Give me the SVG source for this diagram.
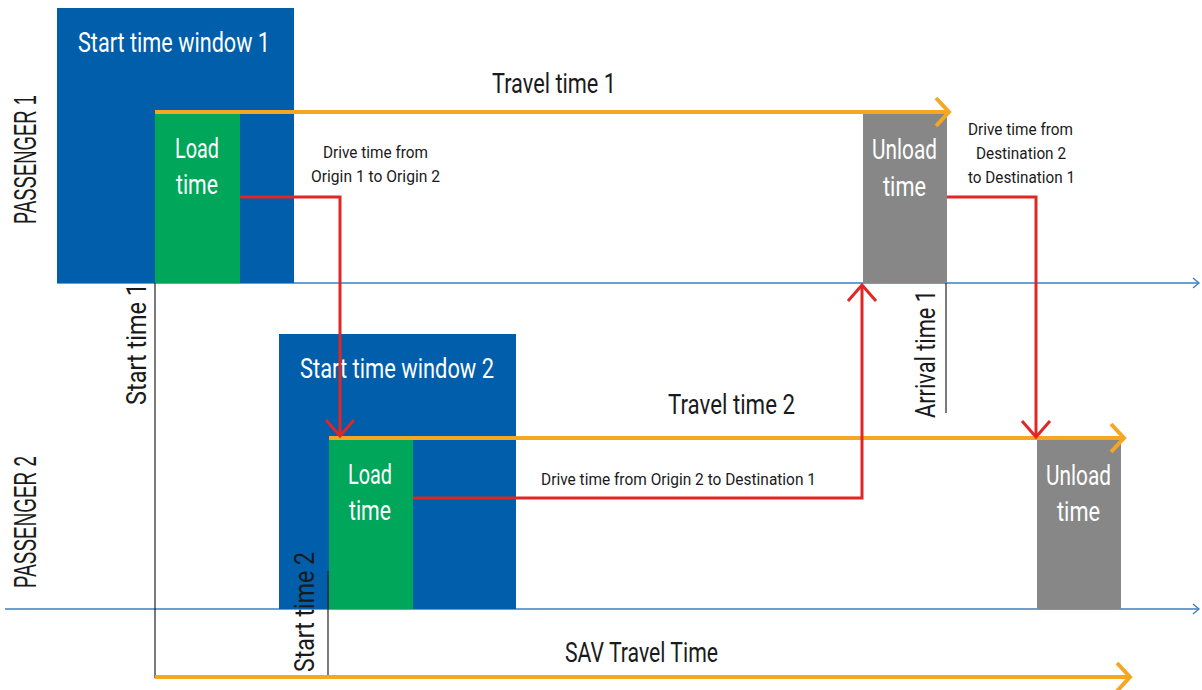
<svg xmlns="http://www.w3.org/2000/svg" width="1202" height="690" viewBox="0 0 1202 690">
<defs>
<style>
.win{fill:#005EAB}
.load{fill:#00A65A}
.unl{fill:#878787}
.t{font-family:"Liberation Sans Narrow","Roboto","Liberation Sans",sans-serif}
.p{font-family:"Liberation Sans","Arial",sans-serif;font-size:31px}
.w{fill:#ffffff}
.k{fill:#1a1a1a}
.big{font-size:28px}
.sm{font-size:17px}
.axis{stroke:#3A7FC0;stroke-width:1.3;fill:none}
.org{stroke:#F5A623;stroke-width:4;fill:none}
.red{stroke:#E02626;stroke-width:3;fill:none}
.tick{stroke:#222;stroke-width:1.2;fill:none}
</style>
<marker id="mo" markerUnits="userSpaceOnUse" markerWidth="40" markerHeight="40" refX="0" refY="0" orient="auto" overflow="visible"><path d="M-13,-14 L0,0 L-13,14" stroke="#F5A623" stroke-width="4" fill="none"/></marker>
<marker id="mr" markerUnits="userSpaceOnUse" markerWidth="40" markerHeight="40" refX="0" refY="0" orient="auto" overflow="visible"><path d="M-16,-14 L0,0 L-16,14" stroke="#E02626" stroke-width="3" fill="none"/></marker>
<marker id="ma" markerUnits="userSpaceOnUse" markerWidth="20" markerHeight="20" refX="0" refY="0" orient="auto" overflow="visible"><path d="M-6,-5 L0,0 L-6,5" stroke="#3A7FC0" stroke-width="1.3" fill="none"/></marker>
</defs>
<rect width="1202" height="690" fill="#ffffff"/>

<g id="axes">
<line class="axis" x1="57" y1="283" x2="1199" y2="283" marker-end="url(#ma)"/>
<line class="axis" x1="5" y1="609" x2="1199" y2="609" marker-end="url(#ma)"/>
</g>

<g id="window1"><rect class="win" x="57" y="8" width="237" height="275"/>
<text class="t w big" x="78" y="52" textLength="192" lengthAdjust="spacingAndGlyphs">Start time window 1</text></g>
<g id="load1"><rect class="load" x="155" y="113" width="85" height="170"/>
<text class="t w big" x="175" y="158" textLength="44" lengthAdjust="spacingAndGlyphs">Load</text>
<text class="t w big" x="176" y="194" textLength="42" lengthAdjust="spacingAndGlyphs">time</text></g>
<g id="unload1"><rect class="unl" x="863" y="113" width="84" height="170"/>
<text class="t w big" x="872" y="159" textLength="65" lengthAdjust="spacingAndGlyphs">Unload</text>
<text class="t w big" x="883" y="196" textLength="43" lengthAdjust="spacingAndGlyphs">time</text></g>
<g id="window2"><rect class="win" x="279" y="334" width="237" height="275"/>
<text class="t w big" x="300" y="378" textLength="194" lengthAdjust="spacingAndGlyphs">Start time window 2</text></g>
<g id="load2"><rect class="load" x="329" y="438" width="84" height="171"/>
<text class="t w big" x="348" y="484" textLength="44" lengthAdjust="spacingAndGlyphs">Load</text>
<text class="t w big" x="349" y="520" textLength="42" lengthAdjust="spacingAndGlyphs">time</text></g>
<g id="unload2"><rect class="unl" x="1037" y="438" width="84" height="171"/>
<text class="t w big" x="1046" y="485" textLength="65" lengthAdjust="spacingAndGlyphs">Unload</text>
<text class="t w big" x="1057" y="521" textLength="43" lengthAdjust="spacingAndGlyphs">time</text></g>

<g id="ticks">
<line class="tick" x1="155" y1="283" x2="155" y2="678"/>
<line class="tick" x1="946" y1="283" x2="946" y2="413"/>
<line class="tick" x1="328" y1="571" x2="328" y2="678"/>
</g>

<g id="connectors">
<line class="org" x1="155" y1="112" x2="949" y2="112" marker-end="url(#mo)"/>
<line class="org" x1="329" y1="438" x2="1124" y2="438" marker-end="url(#mo)"/>
<line class="org" x1="155" y1="677" x2="1130" y2="677" marker-end="url(#mo)"/>
<polyline class="red" points="240,197 340,197 340,436" marker-end="url(#mr)"/>
<polyline class="red" points="413,498 862,498 862,285" marker-end="url(#mr)"/>
<polyline class="red" points="947,197 1036,197 1036,437" marker-end="url(#mr)"/>
</g>

<g id="labels">
<text class="t k big" x="492" y="93" textLength="124" lengthAdjust="spacingAndGlyphs">Travel time 1</text>
<text class="t k big" x="668" y="414" textLength="127" lengthAdjust="spacingAndGlyphs">Travel time 2</text>
<text class="t k big" x="565" y="662" textLength="153" lengthAdjust="spacingAndGlyphs">SAV Travel Time</text>
<text class="t k sm" x="323" y="158" textLength="105" lengthAdjust="spacingAndGlyphs">Drive time from</text>
<text class="t k sm" x="311" y="182" textLength="129" lengthAdjust="spacingAndGlyphs">Origin 1 to Origin 2</text>
<text class="t k sm" x="968" y="135" textLength="105" lengthAdjust="spacingAndGlyphs">Drive time from</text>
<text class="t k sm" x="976" y="159" textLength="90" lengthAdjust="spacingAndGlyphs">Destination 2</text>
<text class="t k sm" x="968" y="183" textLength="107" lengthAdjust="spacingAndGlyphs">to Destination 1</text>
<text class="t k sm" x="541" y="485" textLength="275" lengthAdjust="spacingAndGlyphs">Drive time from Origin 2 to Destination 1</text>
<text class="t k big" transform="translate(146,405) rotate(-90)" textLength="122" lengthAdjust="spacingAndGlyphs">Start time 1</text>
<text class="t k big" transform="translate(935,418) rotate(-90)" textLength="128" lengthAdjust="spacingAndGlyphs">Arrival time 1</text>
<text class="t k big" transform="translate(314,672) rotate(-90)" textLength="120" lengthAdjust="spacingAndGlyphs">Start time 2</text>
<text class="k p" transform="translate(36,224) rotate(-90)" textLength="129" lengthAdjust="spacingAndGlyphs">PASSENGER 1</text>
<text class="k p" transform="translate(36,588) rotate(-90)" textLength="132" lengthAdjust="spacingAndGlyphs">PASSENGER 2</text>
</g>
</svg>
